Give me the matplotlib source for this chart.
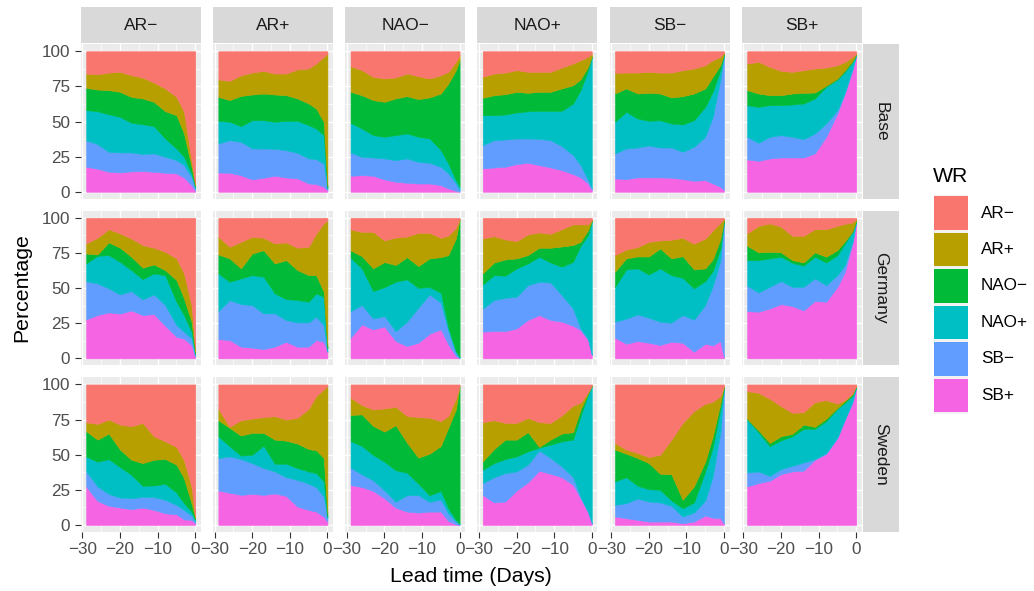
import numpy as np
import matplotlib
matplotlib.use("Agg")
import matplotlib.pyplot as plt
from matplotlib.patches import Rectangle

plt.rcParams['font.family'] = ['Liberation Sans', 'DejaVu Sans']

# ---------------- data ----------------
lead_days = [-29, -26, -23, -20, -17, -14, -11, -8, -5, -3, -1, 0]
regimes = ["AR\u2212", "AR+", "NAO\u2212", "NAO+", "SB\u2212", "SB+"]
regime_colors = ["#F8766D", "#B79F00", "#00BA38", "#00BFC4", "#619CFF", "#F564E3"]
row_names = ["Base", "Germany", "Sweden"]
y_ticks = [0, 25, 50, 75, 100]
x_ticks = [-30, -20, -10, 0]

# Cumulative percentage from the bottom of each panel:
# rows = top of SB+, SB-, NAO+, NAO-, AR+ (AR- fills up to 100)
base_ARm = [[17.8, 16.4, 14.2, 13.7, 14.5, 14.7, 14.2, 13.5, 13.0, 10.2, 4.7, 0.7],
            [36.7, 33.9, 28.4, 28.0, 28.0, 26.8, 27.3, 24.9, 22.5, 19.0, 10.7, 2.4],
            [58.1, 57.3, 55.2, 53.3, 49.1, 48.1, 46.7, 37.9, 30.8, 24.9, 13.0, 3.6],
            [73.9, 72.7, 72.3, 71.1, 67.5, 66.4, 64.0, 57.3, 54.5, 41.5, 17.8, 4.7],
            [84.1, 83.6, 84.8, 85.3, 82.9, 81.3, 77.7, 73.5, 67.5, 56.9, 22.5, 5.9]]
base_ARp = [[13.7, 13.5, 11.8, 8.8, 10.0, 11.4, 10.2, 9.5, 5.9, 5.5, 3.6, 1.2],
            [34.4, 36.7, 35.5, 30.8, 30.8, 30.6, 29.6, 27.7, 23.7, 23.2, 20.1, 2.0],
            [50.5, 49.8, 46.7, 50.9, 50.9, 49.8, 50.5, 50.5, 47.4, 45.0, 40.3, 3.0],
            [67.5, 65.2, 68.2, 69.2, 69.9, 69.2, 68.7, 66.4, 62.8, 59.2, 49.8, 4.0],
            [79.9, 78.9, 82.9, 84.8, 86.0, 84.1, 84.1, 87.0, 87.7, 91.2, 96.0, 98.3]]
base_NAOm = [[11.4, 11.8, 11.4, 8.8, 7.1, 6.4, 5.9, 5.9, 4.7, 2.4, 0.7, 0.0],
             [28.0, 24.9, 24.4, 23.7, 22.5, 23.7, 21.3, 20.6, 17.8, 13.0, 5.9, 1.2],
             [49.1, 45.0, 40.3, 39.1, 40.3, 41.5, 39.1, 37.9, 29.6, 20.1, 8.3, 3.6],
             [71.1, 68.7, 65.2, 64.0, 66.4, 68.0, 65.9, 67.1, 69.9, 77.0, 86.5, 93.6],
             [89.3, 86.5, 81.8, 80.6, 81.3, 84.1, 82.2, 80.6, 82.9, 85.3, 92.4, 97.2]]
base_NAOp = [[16.6, 17.3, 17.8, 19.7, 20.6, 19.0, 17.3, 15.4, 12.6, 10.2, 5.9, 1.2],
             [33.2, 36.7, 37.2, 37.9, 37.9, 37.7, 36.7, 32.5, 26.1, 19.0, 8.3, 2.4],
             [54.5, 54.5, 55.0, 56.4, 57.3, 57.6, 57.6, 57.6, 62.8, 72.3, 86.5, 96.0],
             [66.8, 68.7, 69.4, 71.1, 70.4, 71.1, 71.1, 73.5, 75.8, 79.9, 88.9, 96.4],
             [81.8, 84.1, 84.8, 86.5, 85.3, 85.3, 85.3, 88.4, 91.2, 93.6, 96.0, 98.3]]
base_SBm = [[9.5, 9.0, 10.2, 10.2, 10.2, 10.0, 9.0, 7.8, 8.3, 5.9, 3.6, 1.2],
            [27.3, 30.8, 31.5, 32.9, 31.5, 31.5, 28.4, 32.0, 39.1, 53.3, 79.4, 97.2],
            [49.8, 56.9, 52.1, 50.5, 50.9, 48.6, 47.9, 50.9, 60.4, 71.1, 86.5, 97.9],
            [69.9, 73.5, 69.9, 70.4, 69.9, 67.1, 68.0, 69.9, 73.5, 81.8, 90.0, 98.3],
            [84.6, 84.8, 84.8, 85.3, 84.8, 84.8, 86.5, 87.7, 90.0, 93.6, 96.0, 98.8]]
base_SBp = [[23.0, 22.0, 23.7, 24.4, 24.4, 24.4, 27.3, 39.1, 55.7, 69.9, 86.5, 97.2],
            [39.1, 34.8, 39.1, 40.3, 39.1, 37.4, 41.5, 48.6, 58.1, 71.1, 87.7, 97.4],
            [61.6, 60.4, 61.6, 61.6, 62.1, 62.8, 66.4, 74.6, 79.9, 85.3, 92.4, 97.6],
            [72.3, 69.9, 68.7, 68.7, 69.9, 70.4, 70.6, 75.5, 80.6, 86.5, 93.1, 97.9],
            [91.2, 92.4, 88.9, 86.0, 85.3, 86.5, 87.7, 88.4, 90.0, 92.4, 96.0, 98.3]]

germany_ARm = [[27.7, 30.8, 32.7, 31.8, 34.1, 30.8, 31.5, 23.2, 15.4, 14.0, 9.5, 1.2],
               [55.0, 53.3, 49.8, 45.5, 47.9, 41.9, 45.5, 37.9, 23.7, 19.0, 14.2, 2.4],
               [67.5, 73.0, 73.5, 68.7, 62.8, 56.4, 60.4, 59.2, 40.3, 30.8, 19.0, 3.6],
               [74.6, 73.9, 82.5, 78.7, 72.3, 64.5, 66.8, 62.8, 55.7, 42.7, 26.1, 4.7],
               [81.8, 85.8, 91.9, 88.9, 85.3, 80.6, 78.7, 75.8, 71.1, 60.4, 37.9, 7.1]]
germany_ARp = [[13.7, 13.0, 8.3, 7.6, 6.6, 8.3, 11.8, 8.3, 8.3, 13.0, 11.8, 4.7],
               [33.6, 41.5, 38.6, 37.9, 32.0, 32.0, 27.3, 25.6, 25.6, 29.6, 23.7, 4.7],
               [60.4, 54.5, 56.9, 59.2, 58.1, 46.2, 42.2, 41.5, 40.3, 46.2, 43.8, 7.1],
               [73.9, 71.1, 64.0, 74.6, 76.9, 67.5, 69.9, 62.8, 59.2, 59.2, 47.4, 8.3],
               [86.5, 79.4, 82.9, 86.5, 85.8, 81.8, 82.5, 78.7, 79.4, 88.9, 96.0, 98.3]]
germany_NAOm = [[14.7, 24.2, 20.6, 22.7, 12.3, 8.8, 11.1, 17.5, 20.6, 9.9, 1.7, 0.0],
                [33.6, 37.9, 28.4, 30.1, 19.4, 26.1, 36.0, 45.5, 39.6, 19.4, 4.0, 0.5],
                [71.6, 64.0, 47.9, 50.7, 54.5, 56.2, 50.2, 50.7, 46.7, 21.8, 5.2, 0.9],
                [76.8, 72.7, 64.0, 68.5, 66.4, 72.0, 65.6, 71.1, 72.0, 73.5, 85.3, 98.8],
                [91.7, 90.0, 90.0, 83.9, 86.0, 86.7, 89.3, 89.3, 85.8, 87.4, 92.9, 99.3]]
germany_NAOp = [[19.0, 19.4, 19.4, 21.3, 27.3, 30.8, 27.3, 26.1, 23.2, 20.1, 13.0, 2.4],
                [35.5, 41.5, 43.1, 43.8, 52.1, 54.5, 54.0, 45.0, 35.5, 21.3, 14.0, 2.8],
                [52.6, 59.2, 58.8, 64.0, 67.5, 72.3, 68.2, 65.2, 68.7, 80.1, 87.7, 97.6],
                [60.4, 68.2, 70.4, 71.1, 73.5, 78.7, 78.7, 79.6, 80.6, 82.9, 91.2, 98.1],
                [85.3, 86.9, 84.6, 83.4, 88.2, 89.6, 88.6, 91.9, 95.3, 95.3, 95.3, 98.6]]
germany_SBm = [[14.7, 10.4, 12.3, 11.1, 9.5, 11.8, 11.1, 4.7, 10.4, 9.2, 12.3, 0.5],
               [26.1, 28.2, 31.3, 28.9, 26.1, 25.4, 30.8, 27.5, 37.9, 51.4, 69.2, 97.6],
               [50.7, 63.3, 64.0, 59.7, 64.0, 59.2, 57.3, 49.8, 55.0, 62.1, 77.5, 98.1],
               [61.6, 71.1, 72.5, 72.5, 78.2, 71.1, 72.7, 63.3, 64.0, 70.4, 84.6, 98.6],
               [73.5, 77.5, 79.1, 82.9, 83.9, 84.4, 85.8, 81.5, 85.3, 91.0, 96.4, 99.3]]
germany_SBp = [[33.6, 33.2, 35.5, 38.6, 37.2, 34.1, 40.8, 40.3, 50.9, 61.6, 81.8, 97.2],
               [51.7, 46.9, 50.9, 55.0, 50.9, 50.9, 56.9, 52.1, 59.2, 66.4, 83.0, 97.6],
               [69.9, 69.9, 71.1, 72.3, 68.0, 66.0, 72.3, 68.2, 73.5, 81.8, 90.0, 98.1],
               [80.1, 75.4, 75.8, 75.4, 69.9, 68.2, 75.4, 72.3, 77.0, 83.4, 90.5, 98.3],
               [88.9, 94.3, 96.0, 93.6, 87.2, 87.2, 91.9, 91.9, 94.3, 95.7, 96.7, 99.1]]

sweden_ARm = [[27.4, 17.1, 13.6, 12.4, 11.2, 12.4, 10.7, 8.3, 7.6, 4.0, 3.6, 1.2],
              [38.1, 27.4, 22.1, 19.5, 19.0, 20.0, 19.8, 17.9, 14.3, 10.7, 6.7, 2.4],
              [48.8, 45.0, 46.9, 41.2, 35.7, 27.9, 28.1, 29.3, 23.1, 15.5, 9.5, 3.6],
              [66.7, 60.7, 65.0, 53.6, 46.4, 44.0, 46.4, 46.9, 42.9, 33.3, 15.5, 4.8],
              [73.1, 71.9, 75.0, 71.4, 70.2, 72.6, 63.1, 59.5, 55.5, 46.0, 27.4, 6.0]]
sweden_ARp = [[24.5, 22.9, 21.4, 22.1, 21.4, 22.4, 20.7, 13.1, 10.7, 9.5, 6.0, 2.4],
              [47.6, 48.8, 46.9, 44.0, 40.5, 38.1, 34.0, 32.1, 29.3, 26.9, 20.2, 4.8],
              [63.1, 56.0, 49.3, 50.0, 56.4, 43.6, 43.6, 40.5, 38.1, 36.9, 31.0, 6.0],
              [74.5, 69.0, 63.6, 65.5, 65.5, 60.7, 60.0, 57.9, 54.0, 53.1, 47.6, 8.3],
              [82.6, 69.8, 74.5, 75.7, 76.7, 77.4, 75.0, 76.2, 82.6, 91.7, 96.4, 98.8]]
sweden_NAOm = [[28.4, 27.0, 24.2, 19.0, 12.3, 9.5, 8.8, 9.5, 9.5, 2.8, 0.5, 0.0],
               [40.8, 36.0, 31.8, 24.6, 16.6, 21.1, 21.3, 16.4, 18.2, 8.1, 2.4, 0.5],
               [59.7, 56.2, 49.8, 45.0, 38.9, 37.2, 29.4, 21.1, 24.2, 11.8, 3.6, 0.9],
               [78.2, 78.7, 70.4, 66.4, 70.9, 58.5, 47.9, 50.7, 56.2, 69.2, 82.2, 98.8],
               [90.5, 85.3, 82.2, 82.9, 84.1, 77.5, 76.8, 76.3, 73.9, 77.5, 90.0, 98.8]]
sweden_NAOp = [[21.4, 16.0, 16.7, 24.5, 30.2, 38.6, 36.4, 34.0, 28.6, 19.0, 8.8, 0.7],
               [29.8, 34.0, 36.9, 38.1, 42.9, 53.1, 47.6, 41.7, 34.0, 20.0, 9.5, 1.7],
               [39.3, 44.0, 46.9, 48.8, 52.4, 55.0, 57.1, 59.5, 60.7, 77.4, 92.9, 98.8],
               [45.2, 54.0, 60.7, 60.7, 66.0, 55.5, 60.7, 65.0, 66.0, 82.1, 93.6, 99.3],
               [73.1, 74.5, 72.6, 72.6, 76.2, 73.1, 72.6, 77.9, 85.0, 86.9, 94.5, 99.3]]
sweden_SBm = [[6.0, 4.8, 3.6, 2.4, 2.4, 2.4, 1.2, 2.4, 6.7, 5.2, 4.8, 0.7],
              [14.3, 15.5, 18.8, 16.7, 16.0, 13.6, 6.0, 8.8, 17.4, 34.5, 65.5, 97.6],
              [31.0, 34.0, 27.9, 25.5, 25.0, 17.4, 11.9, 16.0, 38.0, 55.0, 82.0, 98.3],
              [53.6, 50.7, 47.6, 44.0, 36.4, 36.0, 17.9, 27.4, 45.0, 63.0, 86.0, 98.8],
              [58.3, 53.6, 51.2, 48.3, 50.0, 60.7, 72.6, 81.0, 86.2, 87.6, 91.7, 98.8]]
sweden_SBp = [[27.4, 29.8, 31.4, 36.2, 38.1, 38.6, 46.4, 50.5, 61.9, 75.0, 86.9, 97.6],
              [37.4, 38.1, 34.9, 39.8, 42.1, 44.5, 46.9, 51.2, 62.5, 75.5, 87.9, 98.1],
              [75.0, 66.0, 56.0, 60.2, 63.1, 68.3, 68.3, 73.8, 82.6, 86.9, 92.1, 98.3],
              [75.5, 67.4, 58.3, 63.1, 64.8, 71.4, 69.8, 75.5, 83.3, 88.1, 92.9, 98.8],
              [95.2, 94.0, 89.8, 84.5, 79.8, 80.2, 87.4, 88.8, 86.4, 89.0, 93.6, 99.3]]

panel_data = [
    [base_ARm, base_ARp, base_NAOm, base_NAOp, base_SBm, base_SBp],
    [germany_ARm, germany_ARp, germany_NAOm, germany_NAOp, germany_SBm, germany_SBp],
    [sweden_ARm, sweden_ARp, sweden_NAOm, sweden_NAOp, sweden_SBm, sweden_SBp],
]

# ---------------- layout ----------------
W, H = 1034, 591
fig = plt.figure(figsize=(W / 100, H / 100), dpi=100)
fig.patch.set_facecolor("white")


def frac(x, y, w, h):
    return [x / W, 1 - (y + h) / H, w / W, h / H]


col_left = [80.7 + 132.2 * i for i in range(6)]
panel_w = 120.0
row_top = [44.2, 210.8, 377.4]
panel_h = 154.6

stack_colors = regime_colors[::-1]  # bottom: SB+ ... top: AR-
x = np.array(lead_days, dtype=float)
xpad = (x.max() - x.min()) * 0.05

tick_fs = 12.3
for r in range(3):
    for c in range(6):
        ax = fig.add_axes(frac(col_left[c], row_top[r], panel_w, panel_h))
        ax.set_facecolor("#EBEBEB")
        cum = np.vstack([np.zeros(len(x)), np.array(panel_data[r][c]), np.full(len(x), 100.0)])
        shares = np.diff(cum, axis=0)
        ax.stackplot(x, *shares, colors=stack_colors, linewidth=0.4,
                     edgecolor="face", zorder=2)
        ax.set_xlim(x.min() - xpad, x.max() + xpad)
        ax.set_ylim(-5, 105)
        ax.set_xticks(x_ticks)
        ax.set_xticks([-25, -15, -5], minor=True)
        ax.set_yticks(y_ticks)
        ax.set_yticks([12.5, 37.5, 62.5, 87.5], minor=True)
        ax.grid(True, which="major", color="white", linewidth=1.0, zorder=1)
        ax.grid(True, which="minor", color="white", linewidth=0.5, zorder=1)
        ax.set_axisbelow(True)
        for s in ax.spines.values():
            s.set_visible(False)
        ax.tick_params(which="minor", length=0)
        ax.tick_params(which="major", length=4.0, width=0.8, color="#333333",
                       labelsize=tick_fs, labelcolor="#4D4D4D", pad=3.5)
        if c != 0:
            ax.tick_params(axis="y", which="major", length=0, labelleft=False)
        if r != 2:
            ax.tick_params(axis="x", which="major", length=0, labelbottom=False)
        else:
            ax.set_xticklabels([("\u2212" + str(-t)) if t < 0 else str(t) for t in x_ticks])

        # top strips
        if r == 0:
            sax = fig.add_axes(frac(col_left[c], 6.7, panel_w, 36.6))
            sax.set_facecolor("#D9D9D9")
            sax.set_xticks([]); sax.set_yticks([])
            for s in sax.spines.values():
                s.set_visible(False)
            sax.text(0.5, 0.5, regimes[c], ha="center", va="center",
                     fontsize=12.5, color="#1A1A1A", transform=sax.transAxes)
    # right strips
    sax = fig.add_axes(frac(862.5, row_top[r], 36.6, panel_h))
    sax.set_facecolor("#D9D9D9")
    sax.set_xticks([]); sax.set_yticks([])
    for s in sax.spines.values():
        s.set_visible(False)
    sax.text(0.5, 0.5, row_names[r], ha="center", va="center", rotation=270,
             fontsize=12.5, color="#1A1A1A", transform=sax.transAxes)

# axis titles
fig.text((80.7 + 861.7) / 2 / W, 1 - 576 / H, "Lead time (Days)", ha="center",
         va="center", fontsize=15.3, color="black")
fig.text(22 / W, 1 - 288 / H, "Percentage", ha="center", va="center",
         rotation=90, fontsize=15.3, color="black")

# legend
fig.text(933 / W, 1 - 177 / H, "WR", ha="left", va="center", fontsize=15.3, color="black")
for i, (name, col) in enumerate(zip(regimes, regime_colors)):
    ytop = 196.0 + i * 36.4
    fig.add_artist(Rectangle((933.5 / W, 1 - (ytop + 35.5) / H), 34.5 / W, 36.4 / H,
                             transform=fig.transFigure, facecolor="#F2F2F2",
                             edgecolor="none"))
    fig.add_artist(Rectangle((934.0 / W, 1 - (ytop + 34.0) / H), 33.5 / W, 33.5 / H,
                             transform=fig.transFigure, facecolor=col,
                             edgecolor="none"))
    fig.text(981 / W, 1 - (ytop + 17.0) / H, name, ha="left", va="center",
             fontsize=12.3, color="black")

fig.savefig("out.png", dpi=100, facecolor="white")
